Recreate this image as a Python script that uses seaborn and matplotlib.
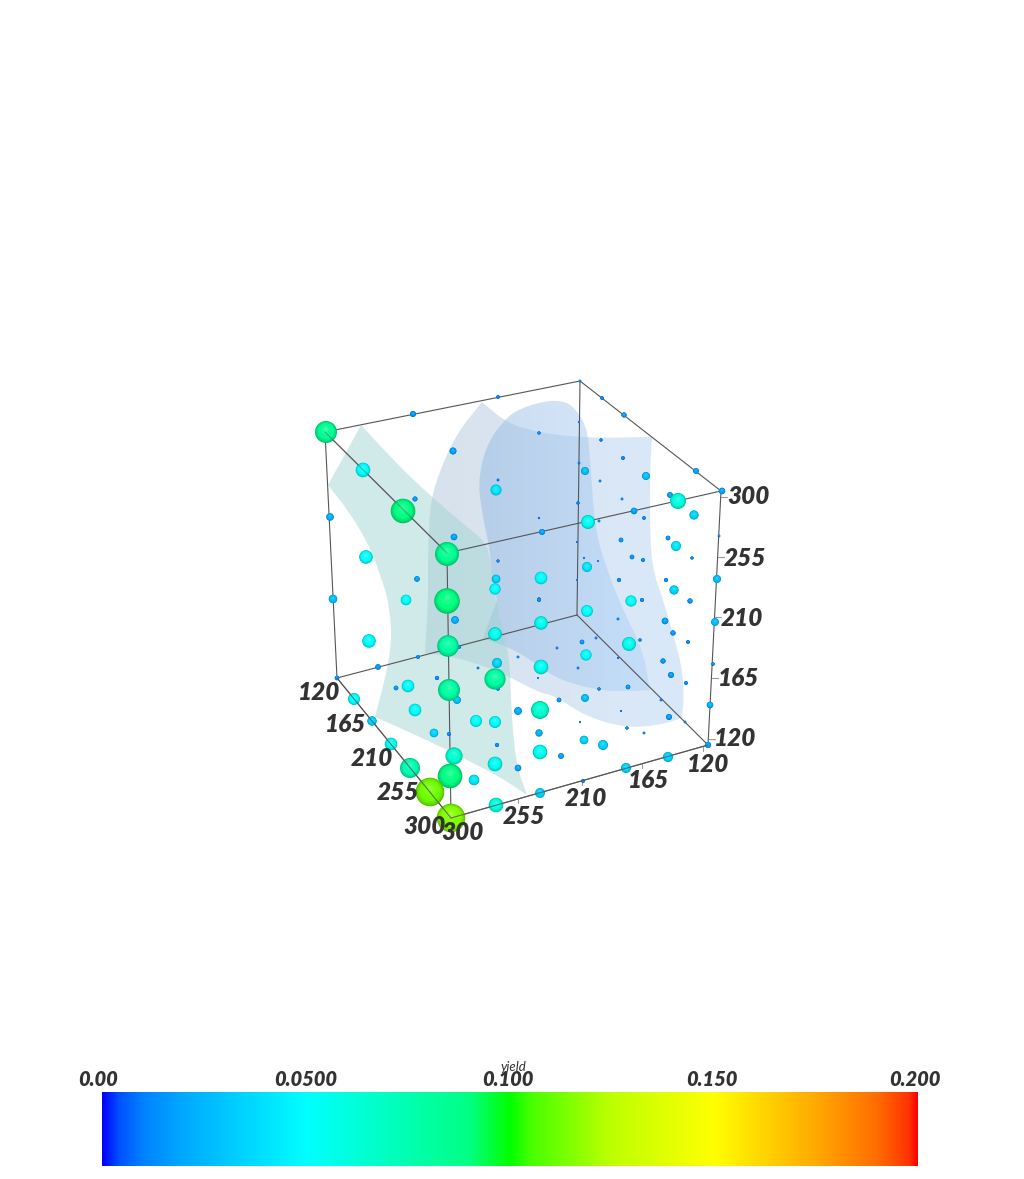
#!/usr/bin/env python3
import numpy as np
import pandas as pd
import matplotlib
matplotlib.use("Agg")
import matplotlib.pyplot as plt
from matplotlib.colors import LinearSegmentedColormap, Normalize, to_hex
from matplotlib.patches import Polygon
import seaborn as sns

# spheres in view-plane pixels
view_x = [326, 413, 498, 453, 363, 403, 415, 496, 498, 330, 454, 447, 366, 498, 417, 496, 495, 541,
          539, 447, 406, 333, 539, 539, 580, 602, 624, 579, 601, 579, 623, 585, 646, 696, 722, 600,
          622, 670, 678, 578, 634, 644, 694, 588, 599, 542, 719, 668, 621, 676, 577, 632, 643, 584,
          598, 692, 587, 717, 619, 666, 577, 674, 631, 642, 690, 539, 587, 541, 715, 665, 673, 618,
          688, 640, 629, 596, 582, 557, 586, 618, 663, 713, 541, 578, 671, 538, 686, 628, 599, 559,
          585, 710, 661, 621, 540, 669, 580, 685, 627, 644, 539, 584, 603, 708, 540, 561, 668, 626,
          583, 540, 455, 369, 495, 448, 459, 418, 518, 497, 378, 478, 437, 337, 396, 408, 495, 498,
          449, 457, 354, 415, 518, 372, 476, 495, 434, 449, 497, 391, 454, 495, 518, 410, 450, 474,
          430, 496, 451]
view_y = [432, 414, 397, 451, 470, 511, 499, 490, 480, 517, 537, 554, 557, 561, 579, 579, 589, 578,
          599, 601, 600, 599, 433, 518, 381, 398, 415, 422, 440, 463, 458, 471, 476, 471, 491, 481,
          499, 495, 501, 503, 511, 518, 515, 522, 521, 532, 536, 538, 540, 546, 542, 557, 560, 558,
          561, 558, 567, 579, 580, 580, 580, 590, 601, 600, 601, 600, 611, 623, 622, 621, 633, 619,
          642, 640, 644, 638, 642, 648, 655, 658, 661, 664, 667, 668, 675, 678, 683, 687, 689, 700,
          698, 705, 700, 711, 710, 717, 722, 722, 728, 733, 733, 740, 745, 745, 752, 756, 757, 768,
          781, 793, 620, 641, 634, 646, 647, 657, 657, 663, 667, 668, 678, 678, 688, 686, 679, 689,
          690, 700, 699, 710, 711, 721, 721, 722, 733, 734, 745, 744, 756, 764, 768, 768, 776, 780,
          792, 805, 818]
sphere_radius = [10.7, 2.7, 1.5, 3.2, 7, 12, 2.2, 5.2, 1, 3.5, 3, 11.7, 6.5, 1.2, 2.5, 4, 5.3, 6,
                 1.3, 12.5, 5, 4, 1.3, 0.8, 1, 1.5, 2.3, 0.8, 1.3, 1, 1.6, 3.7, 3.7, 2.6, 3, 1,
                 1, 2.6, 7.7, 1.3, 3, 1.5, 4.3, 6.7, 1, 2.7, 1, 2, 2, 4.7, 0.7, 2, 1.6, 0.8,
                 0.6, 1.3, 4.7, 3.7, 1.7, 1.7, 0.7, 4.3, 5.3, 1.7, 2.3, 1.6, 5.6, 6.5, 3.6, 3, 2.3, 1,
                 1.6, 1.3, 6.7, 1, 2, 1, 5.3, 0.7, 2.3, 1.4, 7, 1, 2.7, 0.5, 1.6, 2, 1.3, 2,
                 3.6, 3, 1, 0.5, 8.7, 2.7, 0.6, 1, 1.3, 1, 3.3, 4, 4.7, 2.8, 7, 2.6, 4.7, 4.7,
                 1.6, 4.6, 3.5, 6.5, 6.5, 10.5, 1.6, 1.6, 1, 4.7, 2.5, 1, 1.8, 2, 2, 6, 10.3, 1.4,
                 10.7, 3.6, 5.7, 6, 3.6, 4.4, 5.7, 5.7, 4, 1.7, 1.7, 6, 8.3, 7, 3, 9.7, 12, 5,
                 14, 7, 14]
yield_values = [0.085, 0.015, 0.01, 0.018, 0.05, 0.09, 0.015, 0.042, 0.008, 0.022, 0.018, 0.085, 0.05, 0.01, 0.018, 0.035, 0.05, 0.05,
                0.012, 0.09, 0.05, 0.028, 0.012, 0.008, 0.012, 0.012, 0.015, 0.01, 0.01, 0.01, 0.012, 0.028, 0.028, 0.018, 0.018, 0.01,
                0.01, 0.018, 0.06, 0.01, 0.018, 0.012, 0.035, 0.055, 0.01, 0.018, 0.012, 0.015, 0.015, 0.042, 0.01, 0.015, 0.012, 0.01,
                0.01, 0.012, 0.042, 0.028, 0.012, 0.012, 0.01, 0.035, 0.05, 0.012, 0.015, 0.012, 0.05, 0.055, 0.028, 0.018, 0.015, 0.01,
                0.012, 0.012, 0.055, 0.01, 0.015, 0.01, 0.05, 0.008, 0.015, 0.012, 0.055, 0.01, 0.017, 0.008, 0.012, 0.015, 0.012, 0.015,
                0.028, 0.022, 0.01, 0.006, 0.065, 0.017, 0.008, 0.01, 0.012, 0.01, 0.022, 0.035, 0.035, 0.018, 0.055, 0.018, 0.035, 0.035,
                0.012, 0.035, 0.022, 0.05, 0.055, 0.08, 0.012, 0.012, 0.01, 0.035, 0.015, 0.01, 0.012, 0.015, 0.015, 0.05, 0.08, 0.012,
                0.08, 0.028, 0.05, 0.05, 0.022, 0.035, 0.05, 0.05, 0.035, 0.012, 0.012, 0.055, 0.065, 0.055, 0.018, 0.075, 0.09, 0.042,
                0.112, 0.06, 0.115]

# translucent isosurface sheets, the corner lists give the vertices that stay sharp
teal_sheet_x = [361, 400, 433, 467, 487, 492, 497, 505, 510, 511, 513, 517, 527, 500, 467, 433, 400, 375,
                388, 392, 388, 383, 370, 350, 328]
teal_sheet_y = [425, 467, 498, 527, 543, 570, 610, 633, 667, 700, 733, 767, 795, 777, 760, 743, 728, 717,
                667, 633, 600, 583, 547, 513, 485]
teal_corners = [0, 12, 17, 24]
mid_sheet_x = [482, 507, 540, 587, 652, 650, 650, 653, 663, 673, 682, 684, 682, 660, 627, 587, 553, 540, 500,
               460, 425, 428, 428, 430, 440, 457]
mid_sheet_y = [402, 423, 433, 438, 437, 470, 537, 570, 600, 633, 667, 697, 718, 725, 728, 717, 695, 693, 672,
               658, 653, 603, 553, 503, 470, 433]
mid_corners = [0, 4, 12, 20]
back_sheet_x = [487, 507, 520, 537, 557, 573, 587, 590, 595, 607, 623, 643, 650, 620, 587, 553, 520, 483,
                497, 492, 490, 482, 478]
back_sheet_y = [443, 417, 409, 403, 400, 405, 427, 457, 530, 570, 610, 650, 690, 692, 688, 677, 652, 638,
                600, 577, 550, 513, 480]
back_corners = [12, 17, 18]

# cube corners, ticks and tick labels
corner_x = {"top_back": 580, "top_left": 325, "top_right": 721, "top_front": 447,
            "low_back": 577, "low_left": 337, "low_right": 708, "low_front": 451}
corner_y = {"top_back": 381, "top_left": 432, "top_right": 491, "top_front": 553,
            "low_back": 615, "low_left": 678, "low_right": 745, "low_front": 818}
cube_edges = [("top_back", "top_left"), ("top_back", "top_right"), ("top_left", "top_front"),
              ("top_right", "top_front"), ("top_left", "low_left"), ("top_back", "low_back"),
              ("top_right", "low_right"), ("top_front", "low_front"), ("low_left", "low_back"),
              ("low_back", "low_right"), ("low_left", "low_front"), ("low_front", "low_right")]
axis_ticks = ["120", "165", "210", "255", "300"]
right_label_x = [735, 739, 742, 745, 748]
right_label_y = [739, 679, 619, 558, 497]
front_label_x = [708, 649, 586, 524, 463]
front_label_y = [764, 781, 798, 816, 833]
left_label_x = [319, 346, 372, 398, 425]
left_label_y = [692, 725, 759, 792, 827]
right_tick_x = [709, 712, 715, 718, 721]
right_tick_y = [739, 678, 617, 557, 497]
front_tick_x = [703, 642, 582, 518, 457]
front_tick_y = [747, 764, 781, 799, 816]

cbar_values = [0.0, 0.05, 0.1, 0.15, 0.2]
cbar_labels = ["0.00", "0.0500", "0.100", "0.150", "0.200"]
cbar_label_x = [98, 306, 508, 712, 915]

yield_nodes = [0.0, 0.004, 0.01, 0.02, 0.05, 0.09, 0.1, 0.105, 0.125, 0.15, 0.175, 0.19, 0.198, 0.2]
yield_colors = ["#0000ff", "#0050ff", "#0082ff", "#00aaff", "#00ffff", "#00ff82", "#00ff00",
                "#46ff00", "#beff00", "#ffff00", "#ffaa00", "#ff6e00", "#ff3200", "#ff0000"]

W, H = 1024, 1179
TEXT = "#333333"
LABEL_FONT = dict(family="Lato", weight="heavy", style="italic", color=TEXT, ha="center", va="center")

sns.set_theme(style="white")
norm = Normalize(0, 0.2)
rainbow = LinearSegmentedColormap.from_list(
    "yield", [(v / 0.2, c) for v, c in zip(yield_nodes, yield_colors)], N=512
)


def smooth_outline(xs, ys, corners, rounds=3):
    # corner cutting between the sharp vertices of a closed outline
    pts = np.column_stack([xs, ys]).astype(float)
    out = []
    for start, stop in zip(corners, corners[1:] + [corners[0] + len(pts)]):
        seg = pts[np.arange(start, stop + 1) % len(pts)]
        for _ in range(rounds):
            q = 0.75 * seg[:-1] + 0.25 * seg[1:]
            r = 0.25 * seg[:-1] + 0.75 * seg[1:]
            mid = np.empty((2 * len(q), 2))
            mid[0::2], mid[1::2] = q, r
            seg = np.vstack([seg[0], mid, seg[-1]])
        out.append(seg[:-1])
    return np.vstack(out)


def gradient_sheet(ax, outline, left_rgb, right_rgb, alpha):
    # horizontal colour ramp clipped to the sheet outline
    ramp = np.linspace(left_rgb, right_rgb, 128).reshape(1, 128, 3) / 255
    rgba = np.dstack([ramp, np.full((1, 128), alpha)])
    xs, ys = outline[:, 0], outline[:, 1]
    img = ax.imshow(rgba, extent=(xs.min(), xs.max(), ys.max(), ys.min()), aspect="auto", zorder=1)
    img.set_clip_path(Polygon(outline, transform=ax.transData))


def sphere_table():
    # one row per shading layer, biggest spheres last so they sit in front
    df = pd.DataFrame({"x": view_x, "y": view_y, "r": sphere_radius, "yield": yield_values})
    df = df.sort_values("r", kind="stable").reset_index(drop=True)
    layers = [(1.0, 0.76, 0.0), (0.94, 0.84, 0.0), (0.85, 0.92, 0.0),
              (0.72, 1.0, 0.0), (0.45, 1.0, 0.07), (0.22, 1.0, 0.2)]
    rows = []
    for _, s in df.iterrows():
        base = np.array(rainbow(norm(s["yield"]))[:3])
        radius = s["r"] + 0.3
        for frac, shade, light in layers:
            rgb = base * shade * (1 - light) + light
            rows.append({
                "x": s["x"],
                "y": s["y"] - (1 - frac) * radius * 0.32,
                "area": (2 * frac * radius * 72 / 100) ** 2,
                "shade": to_hex(rgb),
            })
    return pd.DataFrame(rows)


def main():
    fig = plt.figure(figsize=(W / 100, H / 100), dpi=100, facecolor="white")
    ax = fig.add_axes([0, 0, 1, 1])

    gradient_sheet(ax, smooth_outline(mid_sheet_x, mid_sheet_y, mid_corners), (177, 197, 217), (181, 211, 245), 0.5)
    gradient_sheet(ax, smooth_outline(back_sheet_x, back_sheet_y, back_corners), (150, 185, 225), (175, 212, 250), 0.5)
    gradient_sheet(ax, smooth_outline(teal_sheet_x, teal_sheet_y, teal_corners), (161, 213, 211), (161, 213, 211), 0.5)

    for a, b in cube_edges:
        ax.plot([corner_x[a], corner_x[b]], [corner_y[a], corner_y[b]], color="#555555", lw=0.8,
                zorder=3, solid_capstyle="round")
    # these edges stay visible across the spheres they run through
    for a, b, alpha in [("low_left", "low_front", 0.8), ("low_front", "low_right", 0.8), ("top_left", "top_front", 0.45)]:
        ax.plot([corner_x[a], corner_x[b]], [corner_y[a], corner_y[b]], color="#555555", lw=0.8,
                alpha=alpha, zorder=5)
    for x, y in zip(right_tick_x, right_tick_y):
        ax.plot([x, x + 6], [y, y], color="#999999", lw=0.8, zorder=3)
    for x, y in zip(front_tick_x, front_tick_y):
        ax.plot([x, x], [y, y + 4], color="#999999", lw=0.8, zorder=3)

    spheres = sphere_table()
    sns.scatterplot(
        data=spheres, x="x", y="y", hue="shade", size="area",
        palette={c: c for c in spheres["shade"].unique()},
        sizes=(spheres["area"].min(), spheres["area"].max()),
        size_norm=(spheres["area"].min(), spheres["area"].max()),
        linewidth=0, legend=False, ax=ax, zorder=4,
    )

    for label, x, y in zip(axis_ticks, right_label_x, right_label_y):
        ax.text(x, y, label, fontsize=17.5, zorder=6, **LABEL_FONT)
    for label, x, y in zip(axis_ticks, front_label_x, front_label_y):
        ax.text(x, y, label, fontsize=17.5, zorder=6, **LABEL_FONT)
    for label, x, y in zip(axis_ticks, left_label_x, left_label_y):
        ax.text(x, y, label, fontsize=17.5, zorder=6, **LABEL_FONT)

    # colour bar
    ramp = np.linspace(0, 0.2, 1024).reshape(1, -1)
    ax.imshow(ramp, cmap=rainbow, norm=norm, extent=(102, 918, 1166, 1092), aspect="auto", zorder=1)
    for label, x in zip(cbar_labels, cbar_label_x):
        ax.text(x, 1080, label, fontsize=14.5, zorder=6, **LABEL_FONT)
    ax.text(513, 1067, "yield", fontsize=9.5, family="Lato", style="italic", color=TEXT,
            ha="center", va="center", zorder=7)

    ax.set_xlim(0, W)
    ax.set_ylim(H, 0)
    ax.set_axis_off()
    fig.savefig("out.png", dpi=100)


if __name__ == "__main__":
    main()
